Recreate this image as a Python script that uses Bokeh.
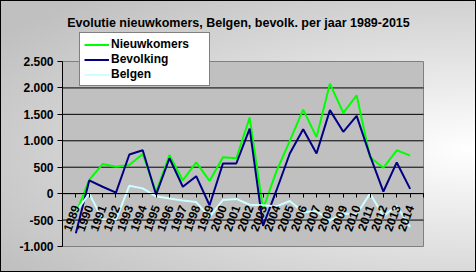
from bokeh.plotting import figure
from bokeh.models import Range1d, FixedTicker, Legend, LegendItem, Label
from bokeh.embed import file_html
from bokeh.resources import INLINE

years = list(range(1989, 2015))
nieuwkomers = [-380, 260, 560, 510, 540, 750, 30, 730, 250, 590,
               240, 690, 670, 1440, -290, 420, 1000, 1590, 1070, 2080,
               1530, 1860, 690, 490, 820, 720]
bevolking = [-750, 250, 130, 20, 740, 820, -20, 670, 130, 330,
             -220, 570, 570, 1230, -610, 60, 760, 1220, 760, 1580,
             1170, 1470, 720, 40, 590, 90]
belgen = [-350, 0, -490, -490, 150, 100, -50, -90, -130, -160,
          -440, -120, -100, -210, -220, -240, -140, -350, -330, -510,
          -375, -390, 0, -420, -235, -630]
y_ticks = [-1000, -500, 0, 500, 1000, 1500, 2000, 2500]
y_tick_labels = ["-1.000", "-500", "0", "500", "1.000", "1.500", "2.000", "2.500"]
title_text = "Evolutie nieuwkomers, Belgen, bevolk. per jaar 1989-2015"

FONT = "Liberation Sans"
W, H = 476, 272
# plot-area placement in pixels (layout only)
PL, PR, PT, PB = 62, 423, 61, 246
X0, X1 = years[0] - 1, years[-1] + 1
Y0, Y1 = y_ticks[0], y_ticks[-1]
xs = (X1 - X0) / (PR - PL)
ys = (Y1 - Y0) / (PB - PT)
x_range = Range1d(X0 - PL * xs, X1 + (W - PR) * xs)
y_range = Range1d(Y0 - (H - PB) * ys, Y1 + PT * ys)

p = figure(width=W, height=H, output_backend="svg", toolbar_location=None,
           x_range=x_range, y_range=y_range, title=None,
           min_border=0, min_border_left=0, min_border_right=0,
           min_border_top=0, min_border_bottom=0)
p.styles = {"background": "radial-gradient(ellipse 120% 75% at 100% 55%, #ffffff 0%, #c0c0c0 100%)",
            "box-shadow": "inset 0 0 0 1px #000000"}
p.border_fill_color = None
p.background_fill_color = None
p.outline_line_color = None
p.grid.visible = False

# plot area
p.quad(left=[X0], right=[X1], bottom=[Y0], top=[Y1],
       fill_color="#c0c0c0", line_color="#808080", line_width=1)
grid_vals = [t for t in y_ticks if Y0 < t < Y1]
p.segment(x0=[X0] * len(grid_vals), x1=[X1] * len(grid_vals), y0=grid_vals, y1=grid_vals,
          line_color="#000000", line_width=1)

# y axis
p.yaxis.fixed_location = X0
p.yaxis.bounds = (Y0, Y1)
p.yaxis.ticker = FixedTicker(ticks=y_ticks)
p.yaxis.major_label_overrides = dict(zip(y_ticks, y_tick_labels))
p.yaxis.major_label_text_font = FONT
p.yaxis.major_label_text_font_size = "12px"
p.yaxis.major_label_text_font_style = "bold"
p.yaxis.major_label_text_color = "#000000"
p.yaxis.major_tick_in = 0
p.yaxis.major_tick_out = 5
p.yaxis.minor_tick_line_color = None
p.yaxis.axis_line_color = "#000000"
p.yaxis.major_label_standoff = 4

# x axis on zero line
x_ticks = list(range(X0, X1 + 1))
p.xaxis.fixed_location = 0
p.xaxis.bounds = (X0, X1)
p.xaxis.ticker = FixedTicker(ticks=x_ticks)
p.xaxis.major_label_overrides = {t: (str(t) if t in years else "") for t in x_ticks}
p.xaxis.major_label_orientation = 1.22
p.xaxis.major_label_text_font = FONT
p.xaxis.major_label_text_font_size = "12px"
p.xaxis.major_label_text_font_style = "bold"
p.xaxis.major_label_text_color = "#000000"
p.xaxis.major_tick_in = 0
p.xaxis.major_tick_out = 4
p.xaxis.minor_tick_line_color = None
p.xaxis.axis_line_color = "#000000"
p.xaxis.major_label_standoff = 8

r1 = p.line(years, nieuwkomers, line_color="#00ff00", line_width=2)
r2 = p.line(years, bevolking, line_color="#000080", line_width=2)
r3 = p.line(years, belgen, line_color="#ccffff", line_width=2)

p.add_layout(Label(x=238, y=H - 22, x_units="screen", y_units="screen", text=title_text,
                   text_font=FONT, text_font_size="12.5px", text_font_style="bold",
                   text_color="#000000", text_align="center", text_baseline="middle"))

legend = Legend(items=[LegendItem(label="Nieuwkomers", renderers=[r1]),
                       LegendItem(label="Bevolking", renderers=[r2]),
                       LegendItem(label="Belgen", renderers=[r3])],
                location=(79, H - 86), padding=4, spacing=1, margin=0,
                glyph_width=25, glyph_height=13, label_height=13, label_width=94,
                label_standoff=2,
                label_text_font=FONT, label_text_font_size="12px", label_text_font_style="bold",
                label_text_color="#000000",
                border_line_color="#000000", border_line_width=1,
                background_fill_color="#ffffff", background_fill_alpha=1)
p.add_layout(legend, "center")

open("out.html", "w").write(file_html(p, INLINE))
